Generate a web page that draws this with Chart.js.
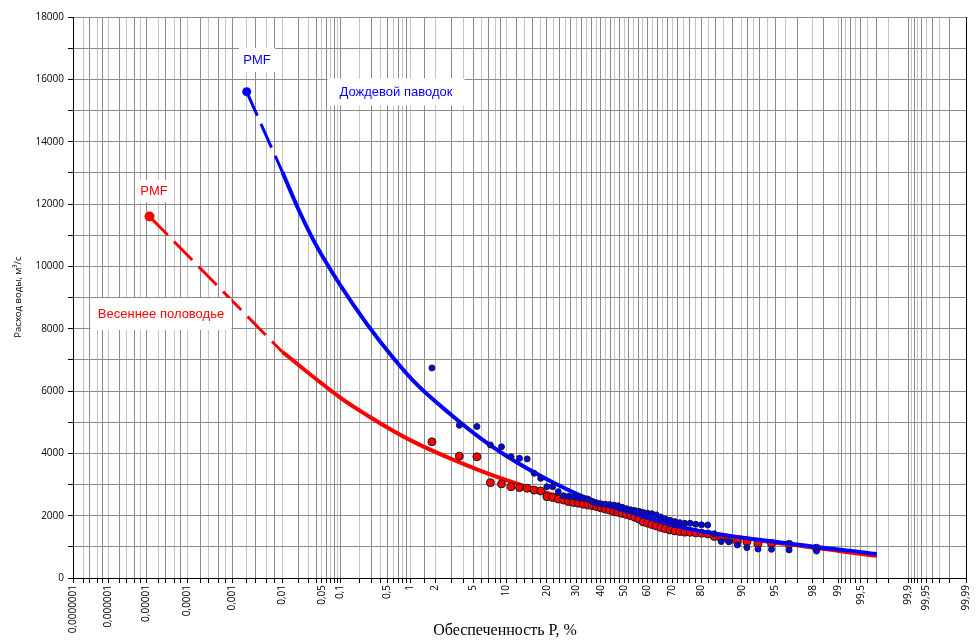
<!DOCTYPE html>
<html><head><meta charset="utf-8">
<script src="https://cdn.jsdelivr.net/npm/chart.js@4.4.0/dist/chart.umd.min.js"></script>
<style>html,body{margin:0;padding:0;background:#fff}#wrap{width:980px;height:641px;position:relative}</style>
</head><body><div id="wrap"><canvas id="c"></canvas></div>
<script>
// ---- axis tick labels (exceedance probability, %) ----
const tickP = [0.0000001,0.000001,0.00001,0.0001,0.001,0.01,0.05,0.1,0.5,1,2,5,10,20,30,40,50,60,70,80,90,95,98,99,99.5,99.9,99.95,99.99];
const tickLabels = ["0,0000001","0,000001","0,00001","0,0001","0,001","0,01","0,05","0,1","0,5","1","2","5","10","20","30","40","50","60","70","80","90","95","98","99","99,5","99,9","99,95","99,99"];

// ---- observed series: plotting positions (%) and discharges (m3/s) ----
const obsP = [1.82,3.64,5.45,7.27,9.09,10.91,12.73,14.55,16.36,18.18,20.00,21.82,23.64,25.45,27.27,29.09,30.91,32.73,34.55,36.36,38.18,40.00,41.82,43.64,45.45,47.27,49.09,50.91,52.73,54.55,56.36,58.18,60.00,61.82,63.64,65.45,67.27,69.09,70.91,72.73,74.55,76.36,78.18,80.00,81.82,83.64,85.45,87.27,89.09,90.91,92.73,94.55,96.36,98.18];
const rainObs = [6740,4900,4860,4270,4210,3890,3840,3820,3360,3200,2930,2930,2770,2640,2620,2605,2575,2555,2535,2450,2405,2380,2368,2355,2340,2318,2270,2225,2190,2165,2140,2105,2080,2060,2025,1960,1900,1850,1810,1775,1755,1755,1725,1705,1700,1420,1170,1160,1060,975,930,920,900,865];
const springObs = [4370,3910,3890,3060,3020,2930,2900,2880,2820,2790,2610,2580,2535,2500,2450,2420,2400,2370,2340,2320,2290,2250,2210,2180,2130,2107,2075,2040,2000,1950,1890,1800,1760,1715,1670,1620,1580,1540,1510,1490,1470,1465,1445,1435,1415,1330,1275,1215,1170,1160,1095,1110,1080,955];

// ---- fitted curves ----
const rainCurveP = [0.01,0.02,0.04,0.1,0.25,0.6,1.2,3,6,12,20,33,55,78,96,99.7];
const rainCurveQ = [13025,11800,10680,9400,8180,7060,6210,5230,4465,3720,3170,2605,2055,1535,1125,770];
const springCurveP = [0.01,0.1,0.25,0.6,1.2,3,6,12,20,38,55,78,96,99.7];
const springCurveQ = [7250,5790,5240,4720,4320,3820,3430,3035,2730,2300,1990,1530,1095,710];

// ---- PMF and extrapolation ----
const rainPMF = {P:0.002, Q:15600};
const springPMF = {P:0.000012, Q:11600};
const rainExtrapP = [0.002, 0.01];
const rainExtrapQ = [15600, 13025];
const springExtrapP = [0.000012, 0.01];
const springExtrapQ = [11600, 7250];

// inverse standard normal (Acklam)
function qnorm(p){
 const a=[-3.969683028665376e+01,2.209460984245205e+02,-2.759285104469687e+02,1.383577518672690e+02,-3.066479806614716e+01,2.506628277459239e+00];
 const b=[-5.447609879822406e+01,1.615858368580409e+02,-1.556989798598866e+02,6.680131188771972e+01,-1.328068155288572e+01];
 const c=[-7.784894002430293e-03,-3.223964580411365e-01,-2.400758277161838e+00,-2.549732539343734e+00,4.374664141464968e+00,2.938163982698783e+00];
 const d=[7.784695709041462e-03,3.224671290700398e-01,2.445134137142996e+00,3.754408661907416e+00];
 const pl=0.02425, ph=1-pl; let q,r;
 if(p<pl){q=Math.sqrt(-2*Math.log(p));return (((((c[0]*q+c[1])*q+c[2])*q+c[3])*q+c[4])*q+c[5])/((((d[0]*q+d[1])*q+d[2])*q+d[3])*q+1);}
 if(p<=ph){q=p-0.5;r=q*q;return (((((a[0]*r+a[1])*r+a[2])*r+a[3])*r+a[4])*r+a[5])*q/(((((b[0]*r+b[1])*r+b[2])*r+b[3])*r+b[4])*r+1);}
 q=Math.sqrt(-2*Math.log(1-p));return -(((((c[0]*q+c[1])*q+c[2])*q+c[3])*q+c[4])*q+c[5])/((((d[0]*q+d[1])*q+d[2])*q+d[3])*q+1);
}
const zOf = P => qnorm(P/100);
const pts = (P,Q) => P.map((p,i)=>({x:zOf(p), y:Q[i]}));

// grid lines of the probability paper
const gridP = [];
[1e-7,1e-6,1e-5,1e-4,1e-3].forEach(d=>[1,2,3,5,7].forEach(k=>gridP.push(+(k*d).toPrecision(3))));
for(let k=1;k<=9;k++) gridP.push(+(k*0.01).toFixed(2));
for(let k=1;k<=9;k++) gridP.push(+(k*0.1).toFixed(1));
gridP.push(1,1.5);
for(let k=2;k<=9;k++) gridP.push(k);
for(let k=10;k<=90;k+=2) gridP.push(k);
for(let k=91;k<=98;k++) gridP.push(k);
gridP.push(98.5,99);
for(let k=1;k<=9;k++) gridP.push(+(99+k*0.1).toFixed(1));
for(let k=1;k<=9;k++) gridP.push(+(99.9+k*0.01).toFixed(2));
const gridZ = gridP.map(zOf);
const tickZ = tickP.map(zOf);
const zMin = zOf(tickP[0]), zMax = zOf(tickP[tickP.length-1]);

const annotations = [
 {text:'PMF', P:0.0032, Q:16620, color:'#0000FF', padX:4, h:24},
 {text:'Дождевой паводок', P:0.66, Q:15600, color:'#0000FF', padX:12, h:27},
 {text:'PMF', P:0.0000155, Q:12420, color:'#FF0000', padX:5, h:22},
 {text:'Весеннее половодье', P:0.000023, Q:8470, color:'#FF0000', padX:7, h:32}
];

const annotPlugin = {
 id:'annot',
 afterDatasetsDraw(chart){
  const ctx=chart.ctx, xs=chart.scales.x, ys=chart.scales.y;
  ctx.save();
  ctx.font='13px "Liberation Sans", Arial, sans-serif';
  ctx.textAlign='center'; ctx.textBaseline='middle';
  annotations.forEach(a=>{
   const x=Math.round(xs.getPixelForValue(zOf(a.P))), y=Math.round(ys.getPixelForValue(a.Q));
   const w=Math.ceil(ctx.measureText(a.text).width);
   ctx.fillStyle='#fff';
   ctx.fillRect(x-w/2-a.padX, y-a.h/2, w+2*a.padX, a.h);
   ctx.fillStyle=a.color;
   ctx.fillText(a.text, x, y);
  });
  ctx.restore();
 },
 afterDraw(chart){
  const ctx=chart.ctx;
  ctx.save();
  ctx.fillStyle='#000';
  ctx.font='16px "Liberation Serif", "Times New Roman", serif';
  ctx.textAlign='center'; ctx.textBaseline='middle';
  ctx.fillText('Обеспеченность Р, %', 505, 631);
  ctx.translate(18, 297); ctx.rotate(-Math.PI/2);
  ctx.font='9.5px "Open Sans", sans-serif';
  ctx.fillText('Расход воды, м³/с', 0, 0);
  ctx.restore();
 }
};

new Chart(document.getElementById('c'), {
 type:'scatter',
 data:{datasets:[
  {label:'rain obs', data:pts(obsP,rainObs), backgroundColor:'#0000FF', borderColor:'#1a1a1a', borderWidth:1, pointRadius:3, order:1},
  {label:'rain PMF', data:pts([rainPMF.P],[rainPMF.Q]), backgroundColor:'#0000FF', borderColor:'#0000FF', borderWidth:0, pointRadius:4.5, order:2},
  {label:'rain curve', data:pts(rainCurveP,rainCurveQ), showLine:true, borderColor:'#0000FF', borderWidth:4, pointRadius:0, cubicInterpolationMode:'monotone', order:3},
  {label:'rain extrap', data:pts(rainExtrapP,rainExtrapQ), showLine:true, borderColor:'#0000FF', borderWidth:3, borderDash:[26,9], pointRadius:0, order:4},
  {label:'spring obs', data:pts(obsP,springObs), backgroundColor:'#FF0000', borderColor:'#1a1a1a', borderWidth:1, pointRadius:4, order:5},
  {label:'spring PMF', data:pts([springPMF.P],[springPMF.Q]), backgroundColor:'#FF0000', borderColor:'#FF0000', borderWidth:0, pointRadius:5, order:6},
  {label:'spring curve', data:pts(springCurveP,springCurveQ), showLine:true, borderColor:'#FF0000', borderWidth:4, pointRadius:0, cubicInterpolationMode:'monotone', order:7},
  {label:'spring extrap', data:pts(springExtrapP,springExtrapQ), showLine:true, borderColor:'#FF0000', borderWidth:3, borderDash:[26,9], pointRadius:0, order:8}
 ]},
 options:{
  responsive:true, maintainAspectRatio:false, animation:false,
  layout:{padding:{top:17,right:5,left:0,bottom:0}},
  plugins:{legend:{display:false}, tooltip:{enabled:false}},
  scales:{
   x:{type:'linear', min:zMin, max:zMax,
    afterBuildTicks:(s)=>{s.ticks=gridZ.map(v=>({value:v}));},
    afterFit:(s)=>{s.height=63;},
    ticks:{autoSkip:false, maxRotation:90, minRotation:90, padding:2, color:'#000',
      font:{family:'"Open Sans", sans-serif', size:10},
      callback:(v)=>{const i=tickZ.findIndex(t=>Math.abs(t-v)<1e-9);return i>=0?tickLabels[i]:'';}},
    grid:{color:(c)=>{ if(!c.tick) return '#999'; const i=gridZ.indexOf(c.tick.value); if(i===gridZ.length-1) return '#000'; return i%2===0?'#8a8a8a':'#c4c4c4';},
      tickColor:'#000', tickLength:5, lineWidth:1},
    border:{color:'#000', width:1}
   },
   y:{min:0, max:18000,
    afterFit:(s)=>{s.width=73;},
    ticks:{stepSize:1000, color:'#000', padding:4, font:{family:'"Open Sans", sans-serif', size:10},
      callback:(v)=> v%2000===0 ? String(v) : ''},
    grid:{color:'#8c8c8c', tickColor:'#000', tickLength:5, lineWidth:1},
    border:{color:'#000', width:1}
   }
  }
 },
 plugins:[annotPlugin]
});
</script></body></html>
